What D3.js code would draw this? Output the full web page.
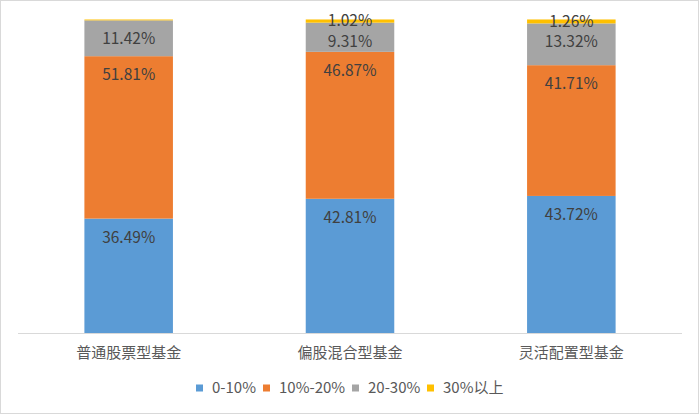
<!DOCTYPE html>
<html lang="zh">
<head>
<meta charset="UTF-8">
<title>基金仓位分布</title>
<script src="https://d3js.org/d3.v7.min.js"></script>
<style>
    body { margin: 0; background: #fff; }
    svg { display: block; font-family: "Noto Sans CJK SC", "Noto Sans", sans-serif; }
</style>
</head>
<body>
<svg width="700" height="415"></svg>
<script>
const categories = ["普通股票型基金", "偏股混合型基金", "灵活配置型基金"];
const seriesNames = ["0-10%", "10%-20%", "20-30%", "30%以上"];
const colors = ["#5b9bd5", "#ed7d31", "#a5a5a5", "#ffc000"];
// values per series, one per category (%)
const s0to10 = [36.49, 42.81, 43.72];
const s10to20 = [51.81, 46.87, 41.71];
const s20to30 = [11.42, 9.31, 13.32];
const s30plus = [0.28, 1.02, 1.26];
// the first bar's top segment has no label in the source
const showLabel = [[true, true, true], [true, true, true], [true, true, true], [false, true, true]];

const allSeries = [s0to10, s10to20, s20to30, s30plus];
const rows = categories.map((c, i) => {
    const r = { cat: c };
    seriesNames.forEach((s, j) => r[s] = allSeries[j][i]);
    return r;
});

const svg = d3.select("svg");
const width = 700, height = 415;

svg.append("rect")
    .attr("x", 0.5).attr("y", 0.5)
    .attr("width", width - 2).attr("height", height - 2)
    .attr("fill", "#fff").attr("stroke", "#d9d9d9");

const x = d3.scaleBand().domain(categories).range([18, 682]).paddingInner(0.6).paddingOuter(0.3);
const y = d3.scaleLinear().domain([0, 100]).range([333, 19.5]);

const stack = d3.stack().keys(seriesNames)(rows);

const groups = svg.append("g").selectAll("g")
    .data(stack)
    .join("g")
    .attr("fill", (d, i) => colors[i]);

groups.selectAll("rect")
    .data(d => d)
    .join("rect")
    .attr("x", d => x(d.data.cat))
    .attr("width", x.bandwidth())
    .attr("y", d => y(d[1]))
    .attr("height", d => y(d[0]) - y(d[1]));

// axis line
svg.append("line")
    .attr("x1", 18).attr("x2", 682)
    .attr("y1", y(0) + 0.5).attr("y2", y(0) + 0.5)
    .attr("stroke", "#d9d9d9");

// data labels
stack.forEach((layer, j) => {
    layer.forEach((d, i) => {
        if (!showLabel[j][i]) return;
        const h = y(d[0]) - y(d[1]);
        const cy = h < 20 ? (y(d[0]) + y(d[1])) / 2 : y(d[1]) + 18.5;
        svg.append("text")
            .attr("x", x(d.data.cat) + x.bandwidth() / 2)
            .attr("y", cy)
            .attr("dy", "0.35em")
            .attr("text-anchor", "middle")
            .attr("font-size", 15.5)
            .attr("fill", "#404040")
            .text(allSeries[j][i].toFixed(2) + "%");
    });
});

// category labels
const xAxis = svg.append("g").attr("transform", `translate(0,${y(0)})`)
    .call(d3.axisBottom(x).tickSize(0).tickPadding(0));
xAxis.select(".domain").remove();
xAxis.selectAll("text")
    .attr("y", 20)
    .attr("dy", "0.35em")
    .attr("font-size", 15)
    .attr("font-family", "\"Noto Sans CJK SC\", sans-serif")
    .attr("fill", "#595959");

// legend
const legendX = [196, 263, 352, 427];
const legend = svg.append("g");
seriesNames.forEach((s, i) => {
    const g = legend.append("g").attr("transform", `translate(${legendX[i]},388)`);
    g.append("rect").attr("x", 0).attr("y", -3.5).attr("width", 7).attr("height", 7).attr("fill", colors[i]);
    g.append("text").attr("x", 16).attr("dy", "0.35em")
        .attr("font-size", 15).attr("fill", "#595959").text(s);
});
</script>
</body>
</html>
